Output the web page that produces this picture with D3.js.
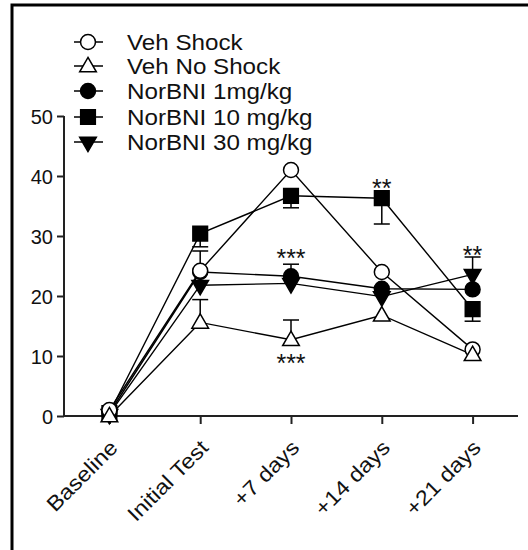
<!DOCTYPE html>
<html>
<head>
<meta charset="utf-8">
<script src="https://cdn.jsdelivr.net/npm/d3@7"></script>
<style>
  body { margin: 0; background: #fff; }
  text { font-family: Arial, "Liberation Sans", sans-serif; fill: #111; }
</style>
</head>
<body>
<svg id="chart" width="528" height="550"></svg>
<script>
const categories = ["Baseline", "Initial Test", "+7 days", "+14 days", "+21 days"];
const yTicks = [0, 10, 20, 30, 40, 50];

const seriesNames = ["Veh Shock", "Veh No Shock", "NorBNI 1mg/kg", "NorBNI 10 mg/kg", "NorBNI 30 mg/kg"];
const seriesSymbols = ["circle", "triangle", "circle", "square", "triangleDown"];
const seriesFilled = [false, false, true, true, true];

const vehShock = [1.0, 24.2, 41.0, 24.0, 11.1];
const vehNoShock = [0.0, 15.6, 12.7, 16.8, 10.2];
const norBni1 = [0.5, 24.0, 23.3, 21.2, 21.1];
const norBni10 = [0.5, 30.4, 36.7, 36.3, 17.8];
const norBni30 = [0.3, 21.8, 22.1, 19.9, 23.6];

// error bars: positive = drawn upward, negative = drawn downward, 0 = hidden
const vehShockErr = [0, 3.3, 0, 0, 0];
const vehNoShockErr = [0, 3.8, 3.3, 0, 0];
const norBni1Err = [0, 0, 2.0, 0, 0];
const norBni10Err = [0, -2.2, -2.0, -4.3, -2.0];
const norBni30Err = [0, 0, 0, 0, 2.9];

// significance stars: category index, value at star centre, text
const starIdx = [2, 2, 3, 4];
const starVal = [27.2, 9.7, 39.0, 27.8];
const starText = ["***", "***", "**", "**"];

const seriesValues = [vehShock, vehNoShock, norBni1, norBni10, norBni30];
const seriesErrors = [vehShockErr, vehNoShockErr, norBni1Err, norBni10Err, norBni30Err];
// order in which marker layers are painted (last on top)
const paintOrder = [4, 3, 2, 0, 1];

const svg = d3.select("#chart");

// outer frame of the figure
svg.append("rect")
  .attr("x", 12).attr("y", 5)
  .attr("width", 560).attr("height", 600)
  .attr("fill", "none")
  .attr("stroke", "#000")
  .attr("stroke-width", 3);

const x = d3.scaleLinear().domain([-0.5, 4.5]).range([64, 518]);
const y = d3.scaleLinear().domain([0, 50]).range([416, 116]);

const axisColor = "#222";

// y axis
const yAxis = svg.append("g")
  .attr("transform", "translate(64,0)")
  .call(d3.axisLeft(y).tickValues(yTicks).tickSize(7).tickPadding(4));
yAxis.select(".domain").attr("stroke", axisColor).attr("stroke-width", 2).attr("d", `M0,${y(50)}V${y(0)}`);
yAxis.selectAll(".tick line").attr("stroke", axisColor).attr("stroke-width", 2);
yAxis.selectAll(".tick text")
  .attr("font-size", 20)
  .attr("dy", "0.36em")
  .style("font-family", "Arial, 'Liberation Sans', sans-serif")
  .attr("fill", "#111");

// x axis
const xAxis = svg.append("g")
  .attr("transform", `translate(0,${y(0)})`)
  .call(d3.axisBottom(x).tickValues(d3.range(categories.length)).tickSize(8).tickFormat(i => categories[i]));
xAxis.select(".domain").attr("stroke", axisColor).attr("stroke-width", 2).attr("d", `M64,0H518`);
xAxis.selectAll(".tick line").attr("stroke", axisColor).attr("stroke-width", 2);
xAxis.selectAll(".tick text")
  .attr("font-size", 21)
  .style("font-family", "Arial, 'Liberation Sans', sans-serif")
  .attr("fill", "#111")
  .attr("text-anchor", "end")
  .attr("dy", null)
  .attr("y", 0)
  .attr("transform", "translate(9,33) rotate(-45) scale(1.12,1)");

const symbolPath = {
  circle: d3.symbol(d3.symbolCircle, 175)(),
  square: d3.symbol(d3.symbolSquare, 215)(),
  triangle: d3.symbol(d3.symbolTriangle, 120)(),
  triangleDown: d3.symbol(d3.symbolTriangle, 120)()
};

function drawMarker(g, sym, filled, cx, cy) {
  const p = g.append("path")
    .attr("d", symbolPath[sym])
    .attr("fill", filled ? "#000" : "#fff")
    .attr("stroke", "#000")
    .attr("stroke-width", 1.5);
  if (sym === "triangleDown") p.attr("transform", `translate(${cx},${cy}) rotate(180)`);
  else if (sym === "triangle") p.attr("transform", `translate(${cx},${cy + 1})`);
  else p.attr("transform", `translate(${cx},${cy})`);
}

const line = d3.line().x((d, i) => x(i)).y(d => y(d));
const plot = svg.append("g");

// error bars first
seriesValues.forEach((vals, s) => {
  const errs = seriesErrors[s];
  vals.forEach((v, i) => {
    const e = errs[i];
    if (!e) return;
    plot.append("line")
      .attr("x1", x(i)).attr("x2", x(i))
      .attr("y1", y(v)).attr("y2", y(v + e))
      .attr("stroke", "#000").attr("stroke-width", 1.5);
    plot.append("line")
      .attr("x1", x(i) - 8).attr("x2", x(i) + 8)
      .attr("y1", y(v + e)).attr("y2", y(v + e))
      .attr("stroke", "#000").attr("stroke-width", 1.5);
  });
});

// lines
seriesValues.forEach(vals => {
  plot.append("path")
    .attr("d", line(vals))
    .attr("fill", "none")
    .attr("stroke", "#000")
    .attr("stroke-width", 1.4);
});

// markers
paintOrder.forEach(s => {
  seriesValues[s].forEach((v, i) => drawMarker(plot, seriesSymbols[s], seriesFilled[s], x(i), y(v)));
});

// stars
starIdx.forEach((ci, k) => {
  svg.append("text")
    .attr("x", x(ci))
    .attr("y", y(starVal[k]))
    .attr("text-anchor", "middle")
    .attr("font-size", 25)
    .attr("dy", "0.58em")
    .text(starText[k]);
});

// legend
const legend = svg.append("g");
const legendY = [42, 66, 91, 117, 142];
seriesNames.forEach((name, s) => {
  const ly = legendY[s];
  legend.append("line")
    .attr("x1", 74).attr("x2", 103)
    .attr("y1", ly).attr("y2", ly)
    .attr("stroke", "#000").attr("stroke-width", 1.5);
  drawMarker(legend, seriesSymbols[s], seriesFilled[s], 88, ly);
  legend.append("text")
    .attr("transform", `translate(127,${ly}) scale(1.1,1)`)
    .attr("dy", "0.36em")
    .attr("font-size", 22)
    .text(name);
});
</script>
</body>
</html>
